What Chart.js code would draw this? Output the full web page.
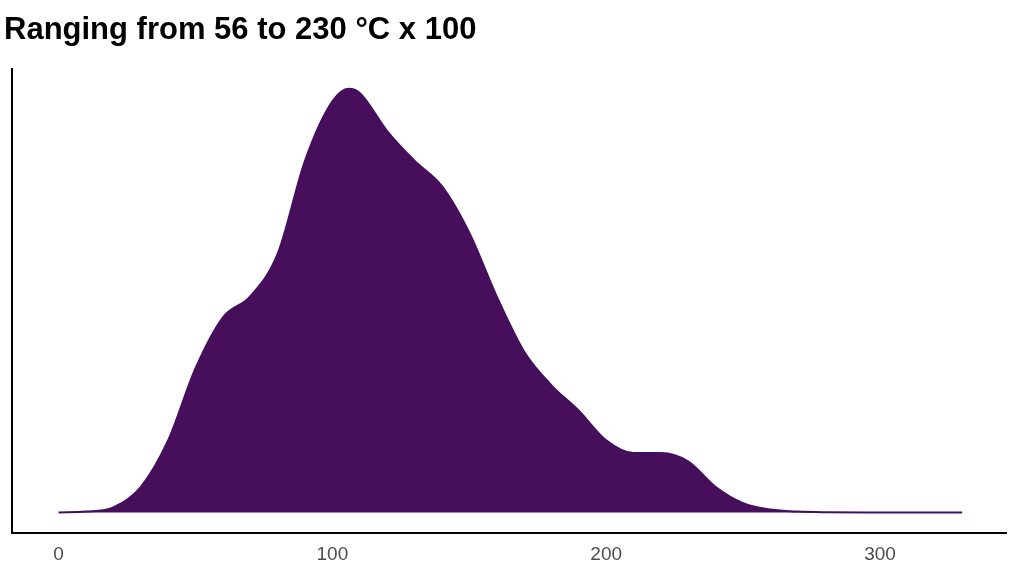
<!DOCTYPE html>
<html>
<head>
<meta charset="utf-8">
<script src="https://cdn.jsdelivr.net/npm/chart.js@4"></script>
<style>
  body { margin: 0; background: #fff; }
  #wrap { position: relative; width: 1024px; height: 576px; }
</style>
</head>
<body>
<div id="wrap"><canvas id="myChart" width="1024" height="576"></canvas></div>
<script>
// temperature (°C x 100) and density
const temps = [0, 10, 20, 30, 40, 50, 60, 70, 80, 90, 100, 106, 110, 120, 130, 140, 150, 160, 170, 180, 190, 200, 210, 220, 230, 240, 250, 260, 270, 280, 300, 330];
const density = [0, 0.002, 0.012, 0.06, 0.17, 0.34, 0.46, 0.51, 0.61, 0.83, 0.97, 1.0, 0.99, 0.9, 0.83, 0.77, 0.66, 0.51, 0.38, 0.30, 0.24, 0.17, 0.14, 0.14, 0.12, 0.06, 0.022, 0.007, 0.002, 0.0005, 0, 0];
const xTicks = [0, 100, 200, 300];

const ctx = document.getElementById("myChart").getContext("2d");
new Chart(ctx, {
  type: "line",
  data: {
    datasets: [{
      data: temps.map((t, i) => ({ x: t, y: density[i] })),
      borderColor: "#440F5C",
      backgroundColor: "#470E5C",
      borderWidth: 2,
      fill: "origin",
      pointRadius: 0,
      tension: 0.4,
      cubicInterpolationMode: "monotone",
    }],
  },
  options: {
    responsive: false,
    animation: false,
    layout: { padding: { left: 4, right: 18, top: 0, bottom: 6 } },
    plugins: {
      legend: { display: false },
      tooltip: { enabled: false },
      title: {
        display: true,
        text: "Ranging from 56 to 230 °C x 100",
        align: "start",
        color: "#000",
        font: { family: "Liberation Sans", size: 31 },
        padding: { top: 12, bottom: 20 },
      },
    },
    scales: {
      x: {
        type: "linear",
        min: -17,
        max: 346,
        afterBuildTicks: (axis) => { axis.ticks = xTicks.map((v) => ({ value: v })); },
        grid: { display: false, drawTicks: true, tickLength: 6 },
        border: { color: "#000", width: 2 },
        ticks: { color: "#4d4d4d", font: { family: "Liberation Sans", size: 19 }, padding: 4 },
      },
      y: {
        min: -0.049,
        max: 1.046,
        grid: { display: false },
        border: { color: "#000", width: 2 },
        ticks: { display: false },
      },
    },
  },
});
</script>
</body>
</html>
